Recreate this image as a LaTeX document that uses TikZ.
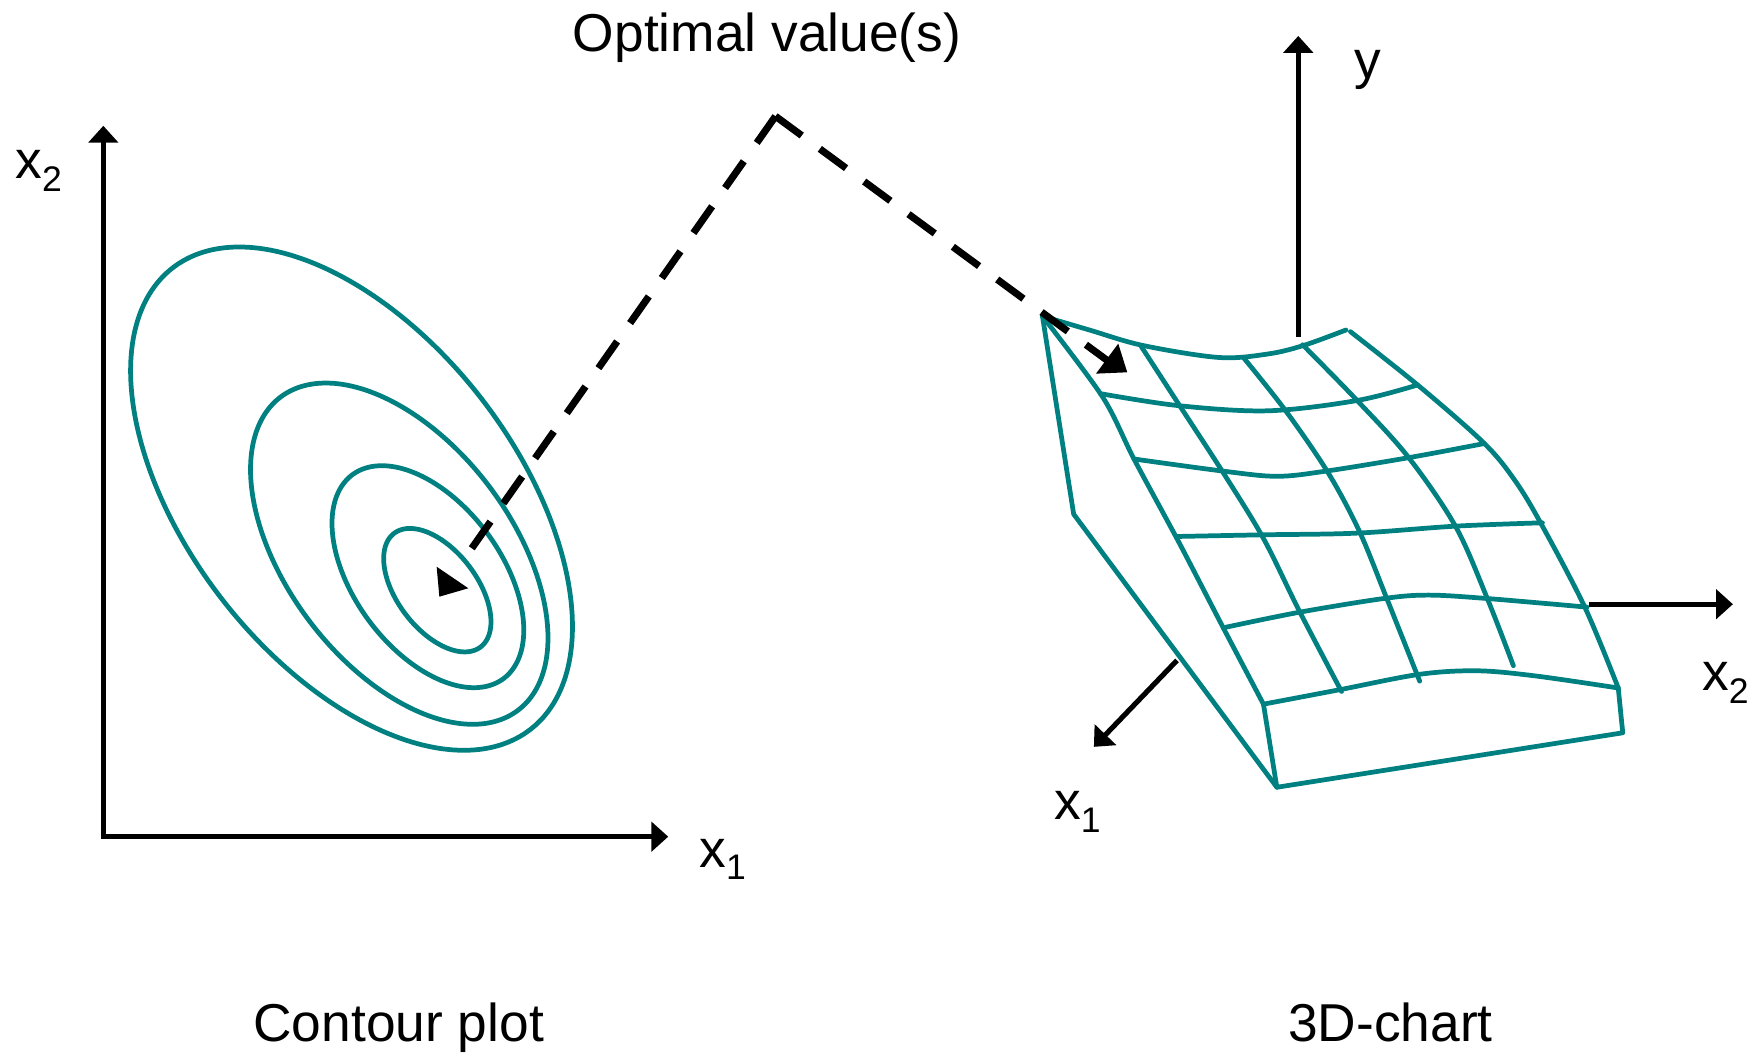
\documentclass[tikz,border=0pt]{standalone}
\usepackage{fontspec}
\setmainfont{Liberation Sans}
\usetikzlibrary{arrows.meta}
\definecolor{tealc}{RGB}{0,128,128}
\newcommand\xsub[1]{x\raisebox{-3.2pt}{\fontsize{9}{9}\selectfont #1}}
% tilted ellipse: centre x, centre y, semi-major, semi-minor, angle
\newcommand\tiltell[5]{%
  \draw[surf] plot[domain=0:360, samples=121, smooth, variable=\t]
    ({#1 + #3*cos(#5)*cos(\t) - #4*sin(#5)*sin(\t)},
     {#2 + #3*sin(#5)*cos(\t) + #4*cos(#5)*sin(\t)}) -- cycle;}
\begin{document}
\begin{tikzpicture}[x=0.01cm,y=-0.01cm,
  surf/.style={draw=tealc, line width=1.2pt, line join=round, line cap=round},
  axis/.style={draw=black, line width=1.3pt},
  atip/.style={-{Triangle[length=0.15cm,width=0.26cm]}},
  dashline/.style={draw=black, line width=1.8pt, dash pattern=on 0.29cm off 0.2cm},
  headfill/.style={fill=black},
  lbl/.style={font=\fontsize{13.5}{16}\selectfont, inner sep=0pt},
]
\useasboundingbox (0,0) rectangle (1568,940);

% ---------- left: contour plot ----------
\coordinate (O1) at (92,745);
\coordinate (Y1) at (92,112);
\coordinate (X1) at (595,745);
\draw[axis, {Triangle[length=0.15cm,width=0.26cm]}-{Triangle[length=0.15cm,width=0.26cm]}] (Y1) -- (O1) -- (X1);

\tiltell{313}{444}{260}{146}{52.2}
\tiltell{355.5}{493}{175}{100}{52.8}
\tiltell{381}{513.5}{113}{65.5}{53.5}
\tiltell{389.4}{525.5}{63.6}{35.5}{52.7}

\node[lbl, anchor=base west] (lx2) at (13,159) {\xsub{2}};
\node[lbl, anchor=base west] (lx1) at (622,772) {\xsub{1}};
\node[lbl, anchor=base] (cp) at (355,927) {Contour plot};

% ---------- right: 3D chart ----------
\coordinate (C0) at (928.2,281.5);
\coordinate (C1) at (956,457.8);
\coordinate (C2) at (1136.9,701);
\coordinate (C3) at (1444.9,652.5);
\coordinate (C4) at (1440.9,612.6);
\coordinate (C5) at (1125,627);

\draw[surf] (C0) -- (C1) -- (C2) -- (C3) -- (C4);
\draw[surf] (C5) -- (C2);
% surface edges
\draw[surf] plot[smooth, tension=0.5] coordinates {(C0) (981.8,353.5) (1009.7,408.7) (1049.4,482.3) (1089.2,559) (C5)};
\draw[surf] plot[smooth, tension=0.55] coordinates {(C0) (969.9,293.8) (1017.6,307.6) (1085.2,318.3) (1128.9,315.2) (1160.7,307.6) (1198.5,293.8)};
\draw[surf] plot[smooth, tension=0.55] coordinates {(1202.4,295.3) (1264.1,344.3) (1321.7,394.9) (1349,428) (1372,466) (1411.1,540.6) (C4)};
\draw[surf] plot[smooth, tension=0.55] coordinates {(C5) (1192.5,614.2) (1264.1,600.4) (1315.7,597.3) (1367.4,601.9) (C4)};
% rows
\draw[surf] plot[smooth, tension=0.55] coordinates {(979.8,350.5) (1049.4,361.2) (1128.9,365.8) (1208.4,356.6) (1262.1,342.8)};
\draw[surf] plot[smooth, tension=0.55] coordinates {(1009.7,408.7) (1089.2,419.5) (1136.9,424.1) (1180.6,419.5) (1256.1,407.2) (1321.7,394.9)};
\draw[surf] plot[smooth, tension=0.55] coordinates {(1047.4,477.7) (1124.9,476.2) (1208.4,474.7) (1295.9,468.5) (1373.4,465.5)};
\draw[surf] plot[smooth, tension=0.55] coordinates {(1089.2,559) (1156.7,545.2) (1232.3,532.9) (1272,529.9) (1323.7,532.9) (1413.1,540.6)};
% columns
\draw[surf] plot[smooth, tension=0.55] coordinates {(1015.6,307.6) (1049.4,359.7) (1089.2,421) (1124.9,479.3) (1156.7,543.6) (1194.5,615.7)};
\draw[surf] plot[smooth, tension=0.55] coordinates {(1107.1,318.3) (1144.8,365.8) (1182.6,421) (1210.4,473.1) (1234.2,531.4) (1264.1,606.5)};
\draw[surf] plot[smooth, tension=0.55] coordinates {(1159.9,307) (1208.4,356.6) (1254.1,407.2) (1295.9,468.5) (1323.7,531.4) (1347.5,592.7)};

% 3D axes
\coordinate (Yb) at (1156,300);
\coordinate (Yt) at (1156,32);
\coordinate (X2a) at (1415,538);
\coordinate (X2b) at (1543,538);
\coordinate (X1a) at (1048,588);
\coordinate (X1b) at (974,665);
\draw[axis, atip] (Yb) -- (Yt);
\draw[axis, atip] (X2a) -- (X2b);
\draw[axis, atip] (X1a) -- (X1b);

\node[lbl, anchor=base west] (ly) at (1205,70) {y};
\node[lbl, anchor=base west] (rx2) at (1515,615) {\xsub{2}};
\node[lbl, anchor=base west] (rx1) at (938,730) {\xsub{1}};
\node[lbl, anchor=base] (tdc) at (1238,927) {3D-chart};

% ---------- optimal value pointers ----------
\node[lbl, anchor=base] (opt) at (683,46) {Optimal value(s)};
\coordinate (apex) at (690.5,103.5);
\coordinate (lend) at (416,494);
\coordinate (rend) at (986,321);
\draw[dashline] (apex) -- (lend);
\draw[dashline] (apex) -- (rend);
\fill[headfill] (388.8,504.6) -- (391.2,531.3) -- (417,523.8) -- cycle;
\fill[headfill] (995.7,306) -- (1003.7,331.5) -- (975.9,332.7) -- cycle;
\end{tikzpicture}
\end{document}
